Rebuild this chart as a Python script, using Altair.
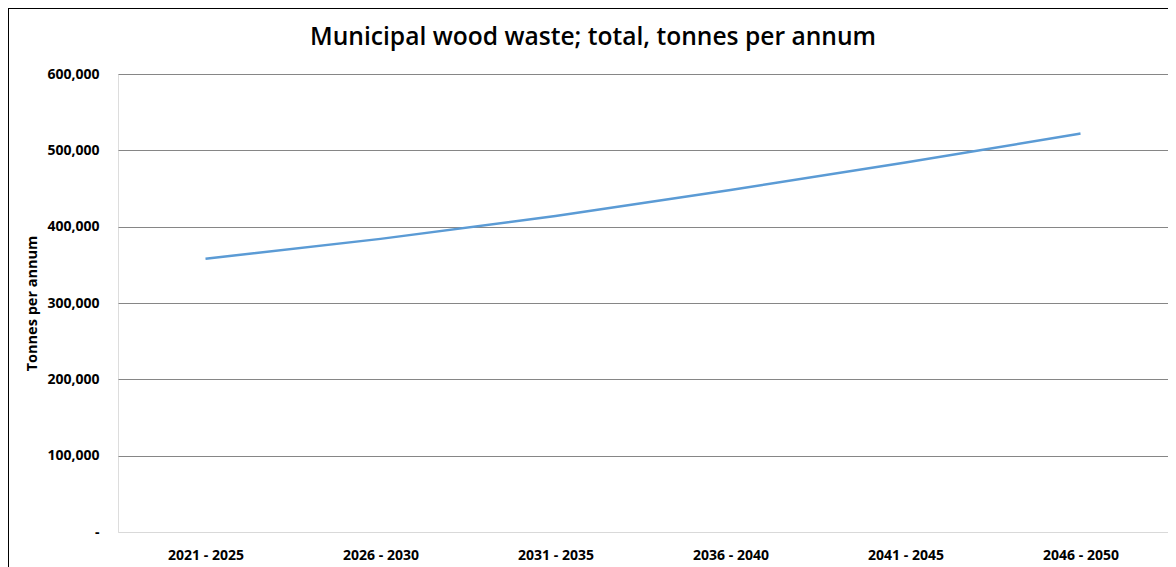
import altair as alt
import pandas as pd

periods = ["2021 - 2025", "2026 - 2030", "2031 - 2035", "2036 - 2040", "2041 - 2045", "2046 - 2050"]
tonnes = [358000, 384000, 414000, 448000, 484000, 522000]
y_ticks = [0, 100000, 200000, 300000, 400000, 500000, 600000]
chart_title = "Municipal wood waste; total, tonnes per annum"
y_title = "Tonnes per annum"

FONT = "Open Sans"
W, H = 1050, 458

df = pd.DataFrame({"period": periods, "tonnes": tonnes})

line = alt.Chart(df).mark_line(
    color="#5B9BD5", strokeWidth=2.5, interpolate="monotone"
).encode(
    x=alt.X("period:N", sort=periods, scale=alt.Scale(padding=0.5),
            axis=alt.Axis(title=None, labelAngle=0, ticks=False, domain=False, grid=False,
                          labelPadding=16, labelFont=FONT, labelFontSize=14,
                          labelFontWeight="bold", labelColor="#000")),
    y=alt.Y("tonnes:Q", scale=alt.Scale(domain=[0, 600000], nice=False),
            axis=alt.Axis(title=y_title, values=y_ticks, ticks=False, domain=False,
                          labelExpr="datum.value === 0 ? '-' : format(datum.value, ',')",
                          labelPadding=19, labelFont=FONT, labelFontSize=14,
                          labelFontWeight="bold", labelColor="#000",
                          titleFont=FONT, titleFontSize=14.5, titleFontWeight="bold",
                          titleColor="#000", titlePadding=7,
                          gridColor={"condition": {"test": "datum.value === 0", "value": "#d9d9d9"},
                                     "value": "#868686"},
                          gridWidth=1)),
)

title = alt.Chart(pd.DataFrame({"t": [chart_title]})).mark_text(
    font=FONT, fontSize=24.6, fontWeight=600, color="#000", baseline="middle", align="center"
).encode(text="t:N", x=alt.value(475), y=alt.value(-36))

border = alt.Chart(pd.DataFrame({"a": [0]})).mark_rect(
    fillOpacity=0, stroke="#000", strokeWidth=2
).encode(x=alt.value(-110), x2=alt.value(W + 60), y=alt.value(-66), y2=alt.value(H + 80))

chart = alt.layer(border, line, title).properties(
    width=W, height=H,
    autosize=alt.AutoSizeParams(type="none"),
    padding={"left": 110, "top": 66, "right": 0, "bottom": 35},
).configure_view(stroke="transparent", strokeWidth=0).configure(background="white")

chart.save("out.html", embed_options={"renderer": "svg", "actions": False})
